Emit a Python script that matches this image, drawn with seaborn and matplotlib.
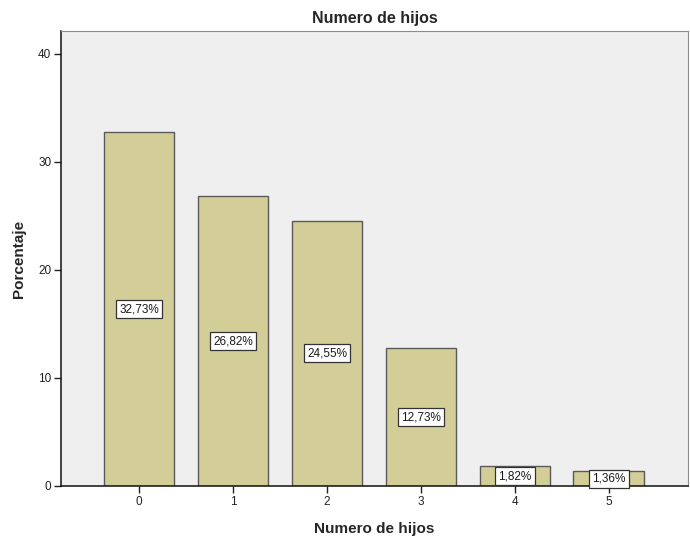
import matplotlib
matplotlib.use("Agg")
import matplotlib.pyplot as plt
import seaborn as sns
import pandas as pd

# Distribution of number of children (percent of respondents)
categories = ["0", "1", "2", "3", "4", "5"]
percentages = [32.73, 26.82, 24.55, 12.73, 1.82, 1.36]
y_ticks = [0, 10, 20, 30, 40]

df = pd.DataFrame({"hijos": categories, "pct": percentages})

sns.set_style("white")
plt.rcParams["font.family"] = ["Liberation Sans", "DejaVu Sans"]

fig = plt.figure(figsize=(6.9, 5.41), dpi=100)
ax = fig.add_axes([0.0884, 0.1017, 0.9086, 0.841])
ax.set_facecolor("#EFEFEF")

sns.barplot(data=df, x="hijos", y="pct", color="#D3CE97", saturation=1,
            width=0.755, edgecolor="#5A5A5A", linewidth=1.0, ax=ax)

# value labels centred inside each bar
for i, v in enumerate(percentages):
    ax.text(i, v / 2, f"{v:.2f}%".replace(".", ","), ha="center", va="center",
            fontsize=8.5, color="#1a1a1a",
            bbox=dict(boxstyle="square,pad=0.25", facecolor="white",
                      edgecolor="#333333", linewidth=0.9))

ax.set_xlim(-0.83, 5.84)
ax.set_ylim(0, 42.1)
ax.set_yticks(y_ticks)
ax.set_yticklabels([str(t) for t in y_ticks])

ax.tick_params(axis="both", direction="out", length=5, width=1,
               colors="#222222", labelsize=8.5, labelcolor="#222222",
               left=True, bottom=True, pad=2)

for side in ["top", "right"]:
    ax.spines[side].set_color("#8C8C8C")
    ax.spines[side].set_linewidth(0.8)
for side in ["left", "bottom"]:
    ax.spines[side].set_color("#111111")
    ax.spines[side].set_linewidth(1.1)

ax.set_title("Numero de hijos", fontsize=11.5, fontweight="bold", pad=6)
ax.set_xlabel("Numero de hijos", fontsize=11, fontweight="bold", labelpad=10)
ax.set_ylabel("Porcentaje", fontsize=11, fontweight="bold", labelpad=9)

fig.savefig("out.png", dpi=100)
